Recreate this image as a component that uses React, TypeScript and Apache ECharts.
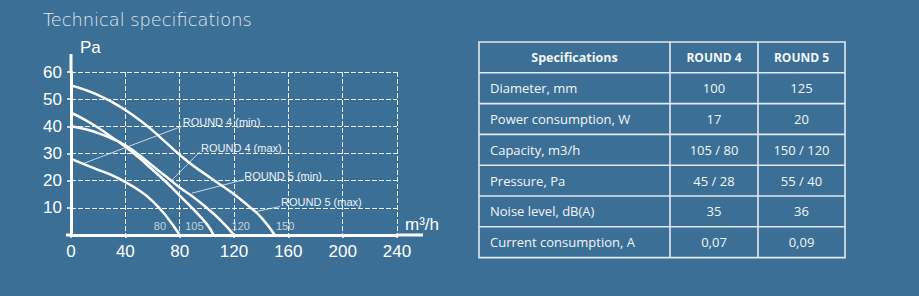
import React, { useEffect, useRef } from "react";
import * as echarts from "echarts";

// Fan curves (flow m³/h -> pressure Pa)
const r5maxX = [0, 10, 20, 30, 40, 50, 60, 70, 80, 90, 100, 110, 120, 130, 140, 150];
const r5maxY = [55, 53.5, 51.5, 49, 46, 42.5, 38.5, 34, 29.5, 25.5, 22, 18.5, 15, 11, 6.5, 0];
const r5minX = [0, 10, 20, 30, 40, 50, 60, 70, 80, 90, 100, 110, 120];
const r5minY = [40, 39, 37.5, 35.5, 33, 29.5, 25.5, 21.5, 17.5, 14, 10, 5.5, 0];
const r4maxX = [0, 10, 20, 30, 40, 50, 60, 70, 80, 90, 100, 105];
const r4maxY = [45, 42.5, 39.5, 36, 32.5, 28.5, 24, 19.5, 14.5, 9.5, 4, 0];
const r4minX = [0, 10, 20, 30, 40, 50, 60, 70, 80];
const r4minY = [28, 26, 24, 22, 19.5, 16.5, 12.5, 7, 0];

// Callouts
const curveNames = ["ROUND 4 (min)", "ROUND 4 (max)", "ROUND 5 (min)", "ROUND 5 (max)"];
const leaderFrom = [[9, 26.3], [73, 19.6], [89, 15.4], [136.7, 8.7]];
const leaderTo = [[81.5, 40], [95, 30.7], [126.9, 20.3], [153.9, 10.5]];

// Capacity markers near curve ends
const capLabels = ["80", "105", "120", "150"];
const capLabelAt = [[65.5, 3.4], [90.8, 3.4], [125, 3.4], [157.6, 3.4]];

// Table
const tableHeader = ["Specifications", "ROUND 4", "ROUND 5"];
const specNames = [
  "Diameter, mm",
  "Power consumption, W",
  "Capacity, m3/h",
  "Pressure, Pa",
  "Noise level, dB(A)",
  "Current consumption, A",
];
const round4Values = ["100", "17", "105 / 80", "45 / 28", "35", "0,07"];
const round5Values = ["125", "20", "150 / 120", "55 / 40", "36", "0,09"];

const BG = "#3b6f96";
const LINE = "#ffffff";

function zip(xs: number[], ys: number[]) {
  return xs.map((x, i) => [x, ys[i]]);
}

export default function App() {
  const ref = useRef<HTMLDivElement>(null);

  useEffect(() => {
    document.body.style.margin = "0";
    const chart = echarts.init(ref.current!, null, { renderer: "svg" });

    const curve = (name: string, xs: number[], ys: number[]) => ({
      name,
      type: "line",
      data: zip(xs, ys),
      smooth: 0.5,
      showSymbol: false,
      symbol: "none",
      lineStyle: { color: LINE, width: 2.5 },
      z: 5,
    });

    const leaders = curveNames.map((n, i) => ({
      name: n + " leader",
      type: "line",
      data: [
        { value: leaderFrom[i], label: { show: false } },
        {
          value: leaderTo[i],
          label: {
            show: true,
            formatter: n,
            position: "right",
            distance: 1,
            offset: [0, -4],
            color: "#edf2f6",
            fontSize: 11,
            fontFamily: "Liberation Sans",
          },
        },
      ],
      showSymbol: true,
      symbol: "circle",
      symbolSize: 0,
      itemStyle: { color: "rgba(0,0,0,0)" },
      lineStyle: { color: "rgba(235,242,248,0.8)", width: 1 },
      z: 4,
    }));

    // table graphics
    const tx = [479, 670, 758, 845];
    const ty0 = 42;
    const rowH = 30.8;
    const nRows = specNames.length + 1;
    const tableEls: any[] = [];
    const bc = "#e1e9f0";
    tableEls.push({
      type: "rect",
      shape: { x: tx[0], y: ty0, width: tx[3] - tx[0], height: rowH * nRows },
      style: { fill: "none", stroke: bc, lineWidth: 1.6 },
    });
    for (let r = 1; r < nRows; r++) {
      tableEls.push({
        type: "line",
        shape: { x1: tx[0], y1: ty0 + r * rowH, x2: tx[3], y2: ty0 + r * rowH },
        style: { stroke: bc, lineWidth: 1.6 },
      });
    }
    for (let c = 1; c < 3; c++) {
      tableEls.push({
        type: "line",
        shape: { x1: tx[c], y1: ty0, x2: tx[c], y2: ty0 + rowH * nRows },
        style: { stroke: bc, lineWidth: 1.6 },
      });
    }
    const cellText = (text: string, x: number, y: number, align: string, font: string) => ({
      type: "text",
      style: {
        text,
        x,
        y,
        fill: "#f2f6f9",
        font,
        align,
        verticalAlign: "middle",
        textAlign: align,
        textVerticalAlign: "middle",
      },
    });
    tableHeader.forEach((h, c) => {
      tableEls.push(
        cellText(h, (tx[c] + tx[c + 1]) / 2, ty0 + rowH / 2, "center",
          c === 0 ? 'bold 12.5px "Open Sans"' : 'bold 12px "Open Sans"')
      );
    });
    const bodyFont = '13px "Open Sans"';
    specNames.forEach((s, r) => {
      const cy = ty0 + (r + 1.5) * rowH;
      tableEls.push(cellText(s, 490, cy, "left", bodyFont));
      tableEls.push(cellText(round4Values[r], (tx[1] + tx[2]) / 2, cy, "center", bodyFont));
      tableEls.push(cellText(round5Values[r], (tx[2] + tx[3]) / 2, cy, "center", bodyFont));
    });

    chart.setOption({
      animation: false,
      backgroundColor: BG,
      grid: { left: 71, right: 522, top: 72, bottom: 61 },
      xAxis: {
        type: "value",
        min: 0,
        max: 240,
        interval: 40,
        name: "m³/h",
        nameLocation: "end",
        nameGap: 8,
        nameTextStyle: {
          color: "#ffffff",
          fontSize: 17,
          fontFamily: "Liberation Sans",
          verticalAlign: "bottom",
          padding: [0, 0, 2, 0],
        },
        axisLine: { show: true, lineStyle: { color: LINE, width: 3 } },
        axisTick: { show: true, length: 3, lineStyle: { color: LINE, width: 1.5 } },
        axisLabel: {
          color: "#ffffff",
          fontSize: 17,
          fontFamily: "Liberation Sans",
          margin: 8,
        },
        splitLine: {
          show: true,
          lineStyle: { color: "rgba(255,255,255,0.9)", width: 1, type: [5, 2] },
        },
      },
      yAxis: {
        type: "value",
        min: 0,
        max: 60,
        interval: 10,
        name: "Pa",
        nameLocation: "end",
        nameGap: 16,
        nameTextStyle: {
          color: "#ffffff",
          fontSize: 17,
          fontFamily: "Liberation Sans",
          align: "left",
          padding: [0, 0, 0, 9],
        },
        axisLine: { show: true, lineStyle: { color: LINE, width: 3 } },
        axisTick: { show: true, length: 4, lineStyle: { color: LINE, width: 1.5 } },
        axisLabel: {
          color: "#ffffff",
          fontSize: 17,
          fontFamily: "Liberation Sans",
          margin: 9,
          formatter: (v: number) => (v === 0 ? "" : String(v)),
        },
        splitLine: {
          show: true,
          lineStyle: { color: "rgba(255,255,255,0.9)", width: 1, type: [5, 2] },
        },
      },
      graphic: [
        {
          type: "text",
          style: {
            text: "Technical specifications",
            x: 43,
            y: 19.5,
            fill: "#e2e9ef",
            font: '200 17.8px "DejaVu Sans"',
            align: "left",
            verticalAlign: "middle",
            textAlign: "left",
            textVerticalAlign: "middle",
          },
        },
        {
          type: "line",
          shape: { x1: 71, y1: 54, x2: 71, y2: 73 },
          style: { stroke: LINE, lineWidth: 3 },
        },
        {
          type: "line",
          shape: { x1: 396, y1: 235, x2: 423, y2: 235 },
          style: { stroke: LINE, lineWidth: 3 },
        },
        {
          type: "line",
          shape: { x1: 66, y1: 235, x2: 72, y2: 235 },
          style: { stroke: LINE, lineWidth: 3 },
        },
        ...tableEls,
      ],
      series: [
        curve("ROUND 5 (max)", r5maxX, r5maxY),
        curve("ROUND 5 (min)", r5minX, r5minY),
        curve("ROUND 4 (max)", r4maxX, r4maxY),
        curve("ROUND 4 (min)", r4minX, r4minY),
        ...leaders,
        {
          name: "capacity",
          type: "scatter",
          symbolSize: 0,
          data: capLabelAt.map((p, i) => ({ value: p, name: capLabels[i] })),
          label: {
            show: true,
            position: "inside",
            formatter: (p: any) => p.name,
            color: "#e8eef3",
            fontSize: 11,
            fontFamily: "Liberation Sans",
          },
          z: 6,
        },
      ],
    });

    return () => chart.dispose();
  }, []);

  return <div ref={ref} style={{ width: 919, height: 296, background: BG }} />;
}
